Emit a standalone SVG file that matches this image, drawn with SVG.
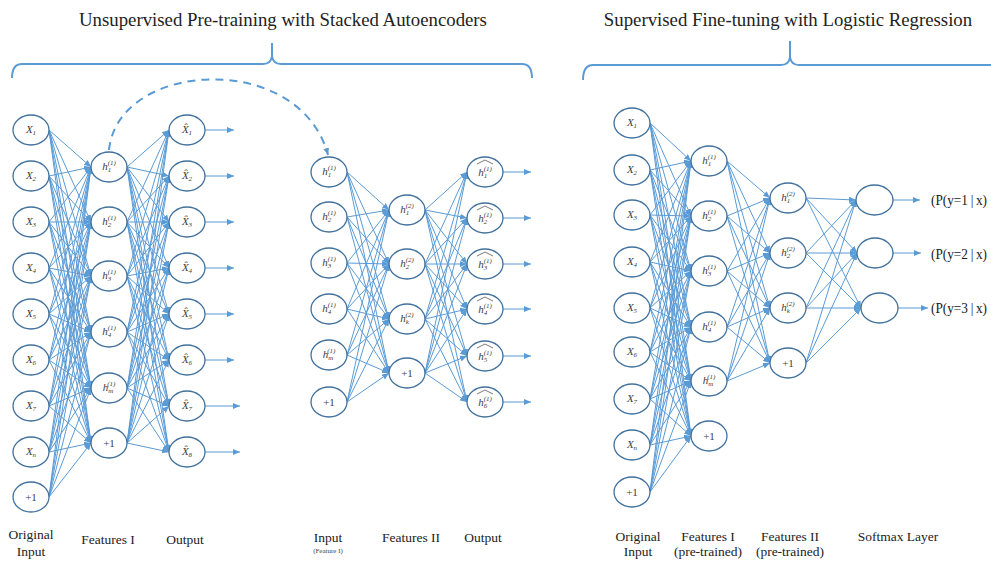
<svg xmlns="http://www.w3.org/2000/svg" width="991" height="561" viewBox="0 0 991 561">
<defs>
<marker id="a" markerWidth="7" markerHeight="6" refX="7" refY="3" orient="auto" markerUnits="userSpaceOnUse"><path d="M0,0L7,3L0,6z" fill="#5B9BD5"/></marker>
<style>
.e path{stroke:#5B9BD5;stroke-width:1;fill:none;marker-end:url(#a)}
.n ellipse{fill:#fff;stroke:#41719C;stroke-width:1.3}
.m{font-family:"Liberation Serif","DejaVu Serif",serif;font-style:italic;font-size:11px;fill:#404040;text-anchor:middle}
.s{font-size:7px}
.o{font-family:"Liberation Serif",serif;font-size:11px;fill:#404040;text-anchor:middle}
.t{font-family:"Liberation Serif",serif;font-size:18.8px;fill:#222;text-anchor:middle}
.l{font-family:"Liberation Serif",serif;font-size:13.5px;fill:#222;text-anchor:middle}
.sm{font-family:"Liberation Serif",serif;font-size:7px;fill:#444;text-anchor:middle}
.pr{font-family:"Liberation Serif",serif;font-size:14px;fill:#222}
.br{fill:none;stroke:#5B9BD5;stroke-width:2}
.hat{fill:none;stroke:#404040;stroke-width:0.7}
</style>
</defs>
<rect width="991" height="561" fill="#fff"/>
<g id="titles">
<text class="t" x="283" y="26">Unsupervised Pre-training with Stacked Autoencoders</text>
<text class="t" x="788" y="26">Supervised Fine-tuning with Logistic Regression</text>
<path class="br" d="M12,78 Q12,64 22,64 L263,64 Q271,64 272,56 L272,43 M272,56 Q273,64 281,64 L522,64 Q532,64 532,78"/>
<path class="br" d="M583,80 Q583,65 593,65 L781,65 Q789,65 790,57 L790,41 M790,57 Q791,65 799,65 L991,65"/>
</g>
<g id="connectors" class="e">
<path d="M109,150 C118,60 300,50 328,155" style="stroke-width:2;stroke-dasharray:8 6"/>
<path d="M49,130L91,167"/><path d="M49,130L91,222"/><path d="M49,130L91,276"/><path d="M49,130L91,332"/><path d="M49,130L91,388"/><path d="M49,130L91,443"/>
<path d="M49,176L91,167"/><path d="M49,176L91,222"/><path d="M49,176L91,276"/><path d="M49,176L91,332"/><path d="M49,176L91,388"/><path d="M49,176L91,443"/>
<path d="M49,222L91,167"/><path d="M49,222L91,222"/><path d="M49,222L91,276"/><path d="M49,222L91,332"/><path d="M49,222L91,388"/><path d="M49,222L91,443"/>
<path d="M49,268L91,167"/><path d="M49,268L91,222"/><path d="M49,268L91,276"/><path d="M49,268L91,332"/><path d="M49,268L91,388"/><path d="M49,268L91,443"/>
<path d="M49,314L91,167"/><path d="M49,314L91,222"/><path d="M49,314L91,276"/><path d="M49,314L91,332"/><path d="M49,314L91,388"/><path d="M49,314L91,443"/>
<path d="M49,360L91,167"/><path d="M49,360L91,222"/><path d="M49,360L91,276"/><path d="M49,360L91,332"/><path d="M49,360L91,388"/><path d="M49,360L91,443"/>
<path d="M49,406L91,167"/><path d="M49,406L91,222"/><path d="M49,406L91,276"/><path d="M49,406L91,332"/><path d="M49,406L91,388"/><path d="M49,406L91,443"/>
<path d="M49,452L91,167"/><path d="M49,452L91,222"/><path d="M49,452L91,276"/><path d="M49,452L91,332"/><path d="M49,452L91,388"/><path d="M49,452L91,443"/>
<path d="M49,497L91,167"/><path d="M49,497L91,222"/><path d="M49,497L91,276"/><path d="M49,497L91,332"/><path d="M49,497L91,388"/><path d="M49,497L91,443"/>
<path d="M127,167L169,130"/><path d="M127,167L169,176"/><path d="M127,167L169,222"/><path d="M127,167L169,268"/><path d="M127,167L169,314"/><path d="M127,167L169,360"/><path d="M127,167L169,406"/><path d="M127,167L169,452"/>
<path d="M127,222L169,130"/><path d="M127,222L169,176"/><path d="M127,222L169,222"/><path d="M127,222L169,268"/><path d="M127,222L169,314"/><path d="M127,222L169,360"/><path d="M127,222L169,406"/><path d="M127,222L169,452"/>
<path d="M127,276L169,130"/><path d="M127,276L169,176"/><path d="M127,276L169,222"/><path d="M127,276L169,268"/><path d="M127,276L169,314"/><path d="M127,276L169,360"/><path d="M127,276L169,406"/><path d="M127,276L169,452"/>
<path d="M127,332L169,130"/><path d="M127,332L169,176"/><path d="M127,332L169,222"/><path d="M127,332L169,268"/><path d="M127,332L169,314"/><path d="M127,332L169,360"/><path d="M127,332L169,406"/><path d="M127,332L169,452"/>
<path d="M127,388L169,130"/><path d="M127,388L169,176"/><path d="M127,388L169,222"/><path d="M127,388L169,268"/><path d="M127,388L169,314"/><path d="M127,388L169,360"/><path d="M127,388L169,406"/><path d="M127,388L169,452"/>
<path d="M127,443L169,130"/><path d="M127,443L169,176"/><path d="M127,443L169,222"/><path d="M127,443L169,268"/><path d="M127,443L169,314"/><path d="M127,443L169,360"/><path d="M127,443L169,406"/><path d="M127,443L169,452"/>
<path d="M205,130L234,130"/><path d="M205,176L234,176"/><path d="M205,222L234,222"/><path d="M205,268L234,268"/><path d="M205,314L234,314"/><path d="M205,360L234,360"/><path d="M205,406L240,406"/><path d="M205,452L240,452"/>
<path d="M347,172L389,210"/><path d="M347,172L389,264"/><path d="M347,172L389,319"/><path d="M347,172L389,373"/>
<path d="M347,217L389,210"/><path d="M347,217L389,264"/><path d="M347,217L389,319"/><path d="M347,217L389,373"/>
<path d="M347,263L389,210"/><path d="M347,263L389,264"/><path d="M347,263L389,319"/><path d="M347,263L389,373"/>
<path d="M347,309L389,210"/><path d="M347,309L389,264"/><path d="M347,309L389,319"/><path d="M347,309L389,373"/>
<path d="M347,355L389,210"/><path d="M347,355L389,264"/><path d="M347,355L389,319"/><path d="M347,355L389,373"/>
<path d="M347,402L389,210"/><path d="M347,402L389,264"/><path d="M347,402L389,319"/><path d="M347,402L389,373"/>
<path d="M425,210L467,172"/><path d="M425,210L467,218"/><path d="M425,210L467,264"/><path d="M425,210L467,309"/><path d="M425,210L467,356"/><path d="M425,210L467,402"/>
<path d="M425,264L467,172"/><path d="M425,264L467,218"/><path d="M425,264L467,264"/><path d="M425,264L467,309"/><path d="M425,264L467,356"/><path d="M425,264L467,402"/>
<path d="M425,319L467,172"/><path d="M425,319L467,218"/><path d="M425,319L467,264"/><path d="M425,319L467,309"/><path d="M425,319L467,356"/><path d="M425,319L467,402"/>
<path d="M425,373L467,172"/><path d="M425,373L467,218"/><path d="M425,373L467,264"/><path d="M425,373L467,309"/><path d="M425,373L467,356"/><path d="M425,373L467,402"/>
<path d="M503,172L531,172"/><path d="M503,218L531,218"/><path d="M503,264L531,264"/><path d="M503,309L531,309"/><path d="M503,356L531,356"/><path d="M503,402L531,402"/>
<path d="M650,123L691,161"/><path d="M650,123L691,216"/><path d="M650,123L691,271"/><path d="M650,123L691,327"/><path d="M650,123L691,381"/><path d="M650,123L691,436"/>
<path d="M650,170L691,161"/><path d="M650,170L691,216"/><path d="M650,170L691,271"/><path d="M650,170L691,327"/><path d="M650,170L691,381"/><path d="M650,170L691,436"/>
<path d="M650,215L691,161"/><path d="M650,215L691,216"/><path d="M650,215L691,271"/><path d="M650,215L691,327"/><path d="M650,215L691,381"/><path d="M650,215L691,436"/>
<path d="M650,262L691,161"/><path d="M650,262L691,216"/><path d="M650,262L691,271"/><path d="M650,262L691,327"/><path d="M650,262L691,381"/><path d="M650,262L691,436"/>
<path d="M650,308L691,161"/><path d="M650,308L691,216"/><path d="M650,308L691,271"/><path d="M650,308L691,327"/><path d="M650,308L691,381"/><path d="M650,308L691,436"/>
<path d="M650,352L691,161"/><path d="M650,352L691,216"/><path d="M650,352L691,271"/><path d="M650,352L691,327"/><path d="M650,352L691,381"/><path d="M650,352L691,436"/>
<path d="M650,399L691,161"/><path d="M650,399L691,216"/><path d="M650,399L691,271"/><path d="M650,399L691,327"/><path d="M650,399L691,381"/><path d="M650,399L691,436"/>
<path d="M650,445L691,161"/><path d="M650,445L691,216"/><path d="M650,445L691,271"/><path d="M650,445L691,327"/><path d="M650,445L691,381"/><path d="M650,445L691,436"/>
<path d="M650,492L691,161"/><path d="M650,492L691,216"/><path d="M650,492L691,271"/><path d="M650,492L691,327"/><path d="M650,492L691,381"/><path d="M650,492L691,436"/>
<path d="M727,161L770,198"/><path d="M727,161L770,253"/><path d="M727,161L770,308"/><path d="M727,161L770,363"/>
<path d="M727,216L770,198"/><path d="M727,216L770,253"/><path d="M727,216L770,308"/><path d="M727,216L770,363"/>
<path d="M727,271L770,198"/><path d="M727,271L770,253"/><path d="M727,271L770,308"/><path d="M727,271L770,363"/>
<path d="M727,327L770,198"/><path d="M727,327L770,253"/><path d="M727,327L770,308"/><path d="M727,327L770,363"/>
<path d="M727,381L770,198"/><path d="M727,381L770,253"/><path d="M727,381L770,308"/><path d="M727,381L770,363"/>
<path d="M806,198L856,200"/><path d="M806,198L857,253"/><path d="M806,198L861,308"/>
<path d="M806,253L856,200"/><path d="M806,253L857,253"/><path d="M806,253L861,308"/>
<path d="M806,308L856,200"/><path d="M806,308L857,253"/><path d="M806,308L861,308"/>
<path d="M806,363L856,200"/><path d="M806,363L857,253"/><path d="M806,363L861,308"/>
<path d="M892,200L920,200"/><path d="M893,253L921,253"/><path d="M898,308L928,308"/>
</g>
<g id="L-x1" class="n"><ellipse cx="31" cy="130" rx="18" ry="15"/><text class="m" x="31" y="133">X<tspan class="s" dy="2">1</tspan></text></g>
<g id="L-x2" class="n"><ellipse cx="31" cy="176" rx="18" ry="15"/><text class="m" x="31" y="179">X<tspan class="s" dy="2">2</tspan></text></g>
<g id="L-x3" class="n"><ellipse cx="31" cy="222" rx="18" ry="15"/><text class="m" x="31" y="225">X<tspan class="s" dy="2">3</tspan></text></g>
<g id="L-x4" class="n"><ellipse cx="31" cy="268" rx="18" ry="15"/><text class="m" x="31" y="271">X<tspan class="s" dy="2">4</tspan></text></g>
<g id="L-x5" class="n"><ellipse cx="31" cy="314" rx="18" ry="15"/><text class="m" x="31" y="317">X<tspan class="s" dy="2">5</tspan></text></g>
<g id="L-x6" class="n"><ellipse cx="31" cy="360" rx="18" ry="15"/><text class="m" x="31" y="363">X<tspan class="s" dy="2">6</tspan></text></g>
<g id="L-x7" class="n"><ellipse cx="31" cy="406" rx="18" ry="15"/><text class="m" x="31" y="409">X<tspan class="s" dy="2">7</tspan></text></g>
<g id="L-xn" class="n"><ellipse cx="31" cy="452" rx="18" ry="15"/><text class="m" x="31" y="455">X<tspan class="s" dy="2">n</tspan></text></g>
<g id="L-b0" class="n"><ellipse cx="31" cy="497" rx="18" ry="15"/><text class="o" x="31" y="501">+1</text></g>
<g id="L-h1" class="n"><ellipse cx="109" cy="167" rx="18" ry="15"/><text class="m" x="109" y="170">h<tspan class="s" dy="2">1</tspan><tspan class="s" dx="-3.5" dy="-7">(1)</tspan></text></g>
<g id="L-h2" class="n"><ellipse cx="109" cy="222" rx="18" ry="15"/><text class="m" x="109" y="225">h<tspan class="s" dy="2">2</tspan><tspan class="s" dx="-3.5" dy="-7">(1)</tspan></text></g>
<g id="L-h3" class="n"><ellipse cx="109" cy="276" rx="18" ry="15"/><text class="m" x="109" y="279">h<tspan class="s" dy="2">3</tspan><tspan class="s" dx="-3.5" dy="-7">(1)</tspan></text></g>
<g id="L-h4" class="n"><ellipse cx="109" cy="332" rx="18" ry="15"/><text class="m" x="109" y="335">h<tspan class="s" dy="2">4</tspan><tspan class="s" dx="-3.5" dy="-7">(1)</tspan></text></g>
<g id="L-hm" class="n"><ellipse cx="109" cy="388" rx="18" ry="15"/><text class="m" x="109" y="391">h<tspan class="s" dy="2">m</tspan><tspan class="s" dx="-6" dy="-7">(1)</tspan></text></g>
<g id="L-b1" class="n"><ellipse cx="109" cy="443" rx="18" ry="15"/><text class="o" x="109" y="447">+1</text></g>
<g id="L-o1" class="n"><ellipse cx="187" cy="130" rx="18" ry="15"/><text class="m" x="187" y="133">X&#770;<tspan class="s" dy="2">1</tspan></text></g>
<g id="L-o2" class="n"><ellipse cx="187" cy="176" rx="18" ry="15"/><text class="m" x="187" y="179">X&#770;<tspan class="s" dy="2">2</tspan></text></g>
<g id="L-o3" class="n"><ellipse cx="187" cy="222" rx="18" ry="15"/><text class="m" x="187" y="225">X&#770;<tspan class="s" dy="2">3</tspan></text></g>
<g id="L-o4" class="n"><ellipse cx="187" cy="268" rx="18" ry="15"/><text class="m" x="187" y="271">X&#770;<tspan class="s" dy="2">4</tspan></text></g>
<g id="L-o5" class="n"><ellipse cx="187" cy="314" rx="18" ry="15"/><text class="m" x="187" y="317">X&#770;<tspan class="s" dy="2">5</tspan></text></g>
<g id="L-o6" class="n"><ellipse cx="187" cy="360" rx="18" ry="15"/><text class="m" x="187" y="363">X&#770;<tspan class="s" dy="2">6</tspan></text></g>
<g id="L-o7" class="n"><ellipse cx="187" cy="406" rx="18" ry="15"/><text class="m" x="187" y="409">X&#770;<tspan class="s" dy="2">7</tspan></text></g>
<g id="L-o8" class="n"><ellipse cx="187" cy="452" rx="18" ry="15"/><text class="m" x="187" y="455">X&#770;<tspan class="s" dy="2">8</tspan></text></g>
<g id="M-i1" class="n"><ellipse cx="329" cy="172" rx="18" ry="15"/><text class="m" x="329" y="175">h<tspan class="s" dy="2">1</tspan><tspan class="s" dx="-3.5" dy="-7">(1)</tspan></text></g>
<g id="M-i2" class="n"><ellipse cx="329" cy="217" rx="18" ry="15"/><text class="m" x="329" y="220">h<tspan class="s" dy="2">2</tspan><tspan class="s" dx="-3.5" dy="-7">(1)</tspan></text></g>
<g id="M-i3" class="n"><ellipse cx="329" cy="263" rx="18" ry="15"/><text class="m" x="329" y="266">h<tspan class="s" dy="2">3</tspan><tspan class="s" dx="-3.5" dy="-7">(1)</tspan></text></g>
<g id="M-i4" class="n"><ellipse cx="329" cy="309" rx="18" ry="15"/><text class="m" x="329" y="312">h<tspan class="s" dy="2">4</tspan><tspan class="s" dx="-3.5" dy="-7">(1)</tspan></text></g>
<g id="M-im" class="n"><ellipse cx="329" cy="355" rx="18" ry="15"/><text class="m" x="329" y="358">h<tspan class="s" dy="2">m</tspan><tspan class="s" dx="-6" dy="-7">(1)</tspan></text></g>
<g id="M-ib" class="n"><ellipse cx="329" cy="402" rx="18" ry="15"/><text class="o" x="329" y="406">+1</text></g>
<g id="M-h1" class="n"><ellipse cx="407" cy="210" rx="18" ry="15"/><text class="m" x="407" y="213">h<tspan class="s" dy="2">1</tspan><tspan class="s" dx="-3.5" dy="-7">(2)</tspan></text></g>
<g id="M-h2" class="n"><ellipse cx="407" cy="264" rx="18" ry="15"/><text class="m" x="407" y="267">h<tspan class="s" dy="2">2</tspan><tspan class="s" dx="-3.5" dy="-7">(2)</tspan></text></g>
<g id="M-hk" class="n"><ellipse cx="407" cy="319" rx="18" ry="15"/><text class="m" x="407" y="322">h<tspan class="s" dy="2">k</tspan><tspan class="s" dx="-3.5" dy="-7">(2)</tspan></text></g>
<g id="M-hb" class="n"><ellipse cx="407" cy="373" rx="18" ry="15"/><text class="o" x="407" y="377">+1</text></g>
<g id="M-o1" class="n"><ellipse cx="485" cy="172" rx="18" ry="15"/><path class="hat" d="M477,164L485,160L493,164"/><text class="m" x="485" y="176">h<tspan class="s" dy="2">1</tspan><tspan class="s" dx="-3.5" dy="-7">(1)</tspan></text></g>
<g id="M-o2" class="n"><ellipse cx="485" cy="218" rx="18" ry="15"/><path class="hat" d="M477,210L485,206L493,210"/><text class="m" x="485" y="222">h<tspan class="s" dy="2">2</tspan><tspan class="s" dx="-3.5" dy="-7">(1)</tspan></text></g>
<g id="M-o3" class="n"><ellipse cx="485" cy="264" rx="18" ry="15"/><path class="hat" d="M477,256L485,252L493,256"/><text class="m" x="485" y="268">h<tspan class="s" dy="2">3</tspan><tspan class="s" dx="-3.5" dy="-7">(1)</tspan></text></g>
<g id="M-o4" class="n"><ellipse cx="485" cy="309" rx="18" ry="15"/><path class="hat" d="M477,301L485,297L493,301"/><text class="m" x="485" y="313">h<tspan class="s" dy="2">4</tspan><tspan class="s" dx="-3.5" dy="-7">(1)</tspan></text></g>
<g id="M-o5" class="n"><ellipse cx="485" cy="356" rx="18" ry="15"/><path class="hat" d="M477,348L485,344L493,348"/><text class="m" x="485" y="360">h<tspan class="s" dy="2">5</tspan><tspan class="s" dx="-3.5" dy="-7">(1)</tspan></text></g>
<g id="M-o6" class="n"><ellipse cx="485" cy="402" rx="18" ry="15"/><path class="hat" d="M477,394L485,390L493,394"/><text class="m" x="485" y="406">h<tspan class="s" dy="2">6</tspan><tspan class="s" dx="-3.5" dy="-7">(1)</tspan></text></g>
<g id="R-x1" class="n"><ellipse cx="632" cy="123" rx="18" ry="15"/><text class="m" x="632" y="126">X<tspan class="s" dy="2">1</tspan></text></g>
<g id="R-x2" class="n"><ellipse cx="632" cy="170" rx="18" ry="15"/><text class="m" x="632" y="173">X<tspan class="s" dy="2">2</tspan></text></g>
<g id="R-x3" class="n"><ellipse cx="632" cy="215" rx="18" ry="15"/><text class="m" x="632" y="218">X<tspan class="s" dy="2">3</tspan></text></g>
<g id="R-x4" class="n"><ellipse cx="632" cy="262" rx="18" ry="15"/><text class="m" x="632" y="265">X<tspan class="s" dy="2">4</tspan></text></g>
<g id="R-x5" class="n"><ellipse cx="632" cy="308" rx="18" ry="15"/><text class="m" x="632" y="311">X<tspan class="s" dy="2">5</tspan></text></g>
<g id="R-x6" class="n"><ellipse cx="632" cy="352" rx="18" ry="15"/><text class="m" x="632" y="355">X<tspan class="s" dy="2">6</tspan></text></g>
<g id="R-x7" class="n"><ellipse cx="632" cy="399" rx="18" ry="15"/><text class="m" x="632" y="402">X<tspan class="s" dy="2">7</tspan></text></g>
<g id="R-xn" class="n"><ellipse cx="632" cy="445" rx="18" ry="15"/><text class="m" x="632" y="448">X<tspan class="s" dy="2">n</tspan></text></g>
<g id="R-b0" class="n"><ellipse cx="632" cy="492" rx="18" ry="15"/><text class="o" x="632" y="496">+1</text></g>
<g id="R-h1" class="n"><ellipse cx="709" cy="161" rx="18" ry="15"/><text class="m" x="709" y="164">h<tspan class="s" dy="2">1</tspan><tspan class="s" dx="-3.5" dy="-7">(1)</tspan></text></g>
<g id="R-h2" class="n"><ellipse cx="709" cy="216" rx="18" ry="15"/><text class="m" x="709" y="219">h<tspan class="s" dy="2">2</tspan><tspan class="s" dx="-3.5" dy="-7">(1)</tspan></text></g>
<g id="R-h3" class="n"><ellipse cx="709" cy="271" rx="18" ry="15"/><text class="m" x="709" y="274">h<tspan class="s" dy="2">3</tspan><tspan class="s" dx="-3.5" dy="-7">(1)</tspan></text></g>
<g id="R-h4" class="n"><ellipse cx="709" cy="327" rx="18" ry="15"/><text class="m" x="709" y="330">h<tspan class="s" dy="2">4</tspan><tspan class="s" dx="-3.5" dy="-7">(1)</tspan></text></g>
<g id="R-hm" class="n"><ellipse cx="709" cy="381" rx="18" ry="15"/><text class="m" x="709" y="384">h<tspan class="s" dy="2">m</tspan><tspan class="s" dx="-6" dy="-7">(1)</tspan></text></g>
<g id="R-b1" class="n"><ellipse cx="709" cy="436" rx="18" ry="15"/><text class="o" x="709" y="440">+1</text></g>
<g id="R-g1" class="n"><ellipse cx="788" cy="198" rx="18" ry="15"/><text class="m" x="788" y="201">h<tspan class="s" dy="2">1</tspan><tspan class="s" dx="-3.5" dy="-7">(2)</tspan></text></g>
<g id="R-g2" class="n"><ellipse cx="788" cy="253" rx="18" ry="15"/><text class="m" x="788" y="256">h<tspan class="s" dy="2">2</tspan><tspan class="s" dx="-3.5" dy="-7">(2)</tspan></text></g>
<g id="R-gk" class="n"><ellipse cx="788" cy="308" rx="18" ry="15"/><text class="m" x="788" y="311">h<tspan class="s" dy="2">k</tspan><tspan class="s" dx="-3.5" dy="-7">(2)</tspan></text></g>
<g id="R-b2" class="n"><ellipse cx="788" cy="363" rx="18" ry="15"/><text class="o" x="788" y="367">+1</text></g>
<g id="R-s1" class="n"><ellipse cx="874.5" cy="200" rx="18.5" ry="15"/></g>
<g id="R-s2" class="n"><ellipse cx="875" cy="253" rx="18" ry="15"/></g>
<g id="R-s3" class="n"><ellipse cx="879.5" cy="308" rx="18.5" ry="15"/></g>
<g id="probs">
<text class="pr" x="931" y="205" textLength="56" lengthAdjust="spacingAndGlyphs">(P(y=1&#8201;|&#8201;x)</text>
<text class="pr" x="931" y="259" textLength="56" lengthAdjust="spacingAndGlyphs">(P(y=2&#8201;|&#8201;x)</text>
<text class="pr" x="931" y="313" textLength="56" lengthAdjust="spacingAndGlyphs">(P(y=3&#8201;|&#8201;x)</text>
</g>
<g id="labels">
<text class="l" x="31" y="539">Original</text>
<text class="l" x="31" y="556">Input</text>
<text class="l" x="108" y="544">Features I</text>
<text class="l" x="185" y="544">Output</text>
<text class="l" x="328" y="542">Input</text>
<text class="sm" x="328" y="553">(Feature I)</text>
<text class="l" x="411" y="542">Features II</text>
<text class="l" x="483" y="542">Output</text>
<text class="l" x="638" y="541">Original</text>
<text class="l" x="638" y="556">Input</text>
<text class="l" x="708" y="541">Features I</text>
<text class="l" x="708" y="556">(pre-trained)</text>
<text class="l" x="790" y="541">Features II</text>
<text class="l" x="790" y="556">(pre-trained)</text>
<text class="l" x="898" y="541">Softmax Layer</text>
</g>
</svg>
